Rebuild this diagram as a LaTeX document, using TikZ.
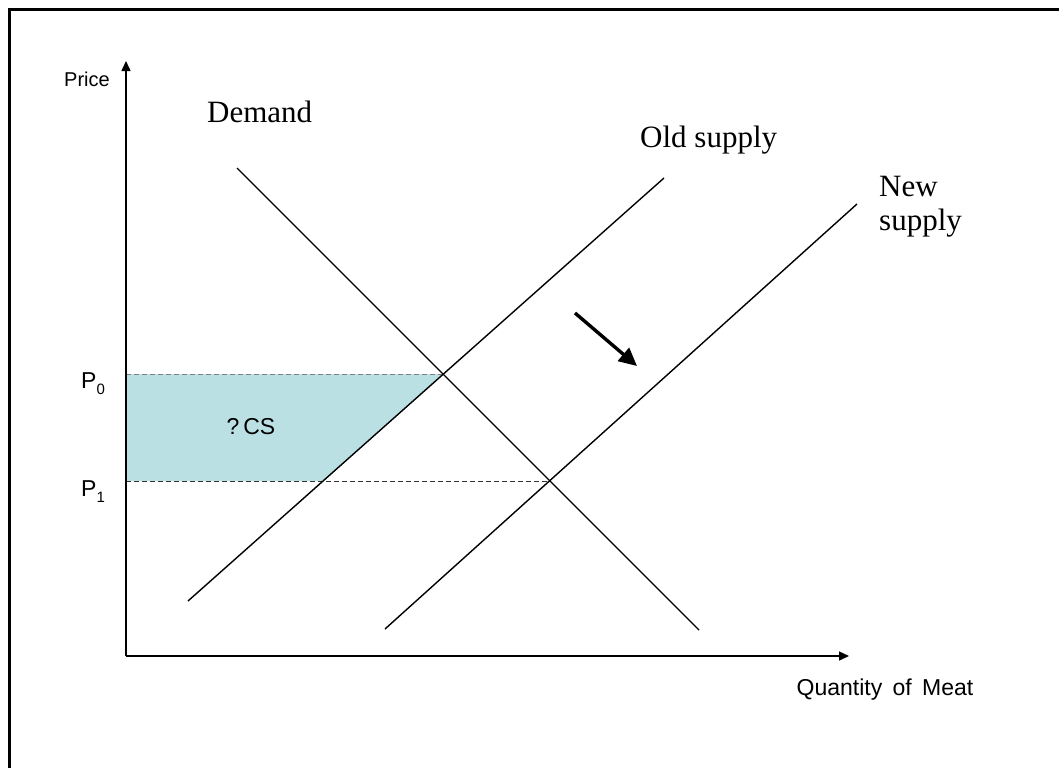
\documentclass[tikz,border=0pt]{standalone}
\usepackage{fontspec}
\setmainfont{Liberation Serif}
\setsansfont{Liberation Sans}
\usetikzlibrary{positioning,arrows.meta}
\definecolor{csfill}{RGB}{186,224,227}
\newcommand{\psub}[1]{P\raisebox{-6pt}{\fontsize{15}{17}\selectfont #1}}
\tikzset{
    curve/.style={line width=1.4pt}, % demand and supply lines
    axis/.style={line width=1.4pt, -{Triangle[length=10pt,width=9pt]}},
    guide/.style={dashed, line width=0.9pt, dash pattern=on 5pt off 3pt},
    serif label/.style={font=\fontsize{31}{35}\selectfont, inner sep=0pt},
    sans label/.style={font=\sffamily\fontsize{23}{26}\selectfont, inner sep=0pt},
}
\begin{document}
\begin{tikzpicture}[x=1pt,y=-1pt]
  \useasboundingbox (0,0) rectangle (1059,768);
  % frame
  \draw[line width=2.5pt] (9.5,768) -- (9.5,9.5) -- (1059,9.5);

  % axes and crossing points
  \coordinate (O)   at (126,656);
  \coordinate (ytop) at (126,61);
  \coordinate (xend) at (849,656);
  \coordinate (e_0) at (443,374);
  \coordinate (e_1) at (550,481);
  \coordinate (p_0) at (126,374);
  \coordinate (p_1) at (126,481);
  \coordinate (s_1) at (323,481);

  % change in consumer surplus
  \fill[csfill] (p_0) -- (e_0) -- (s_1) -- (p_1) -- cycle;
  \draw[guide, gray] (p_0) -- (e_0);
  \draw[guide, black!80] (p_1) -- (e_1);

  % curves
  \coordinate (d_a)  at (237,168);
  \coordinate (d_b)  at (699,630);
  \coordinate (os_a) at (188,601);
  \coordinate (os_b) at (664,178);
  \coordinate (ns_a) at (385,629);
  \coordinate (ns_b) at (857,204);
  \draw[curve] (d_a) -- (d_b);
  \draw[curve] (os_a) -- (os_b);
  \draw[curve] (ns_a) -- (ns_b);

  \draw[axis] (O) -- (ytop);
  \draw[axis] (O) -- (xend);

  % shift of supply
  \coordinate (sh_a) at (575,313);
  \coordinate (sh_b) at (637,366);
  \draw[line width=3.4pt, -{Triangle[length=18pt,width=17pt]}] (sh_a) -- (sh_b);

  % labels
  \node[sans label, font=\sffamily\fontsize{20}{23}\selectfont] (price) at (87,79) {Price};
  \node[sans label] (qty)   at (885,690) {Quantity\hspace{4pt} of\hspace{4pt} Meat};
  \node[sans label, anchor=base west] (lp_0) at (81,388) {\psub{0}};
  \node[sans label, anchor=base west] (lp_1) at (81,496) {\psub{1}};
  \node[sans label] (cs)    at (251,427) {?\,CS};
  \node[serif label, anchor=base west] (dem) at (207,122) {Demand};
  \node[serif label, anchor=base west] (old) at (640,147) {Old supply};
  \node[serif label, anchor=base west] (new) at (879,196) {New};
  \node[serif label, anchor=base west] (sup) at (879,230) {supply};
\end{tikzpicture}
\end{document}
